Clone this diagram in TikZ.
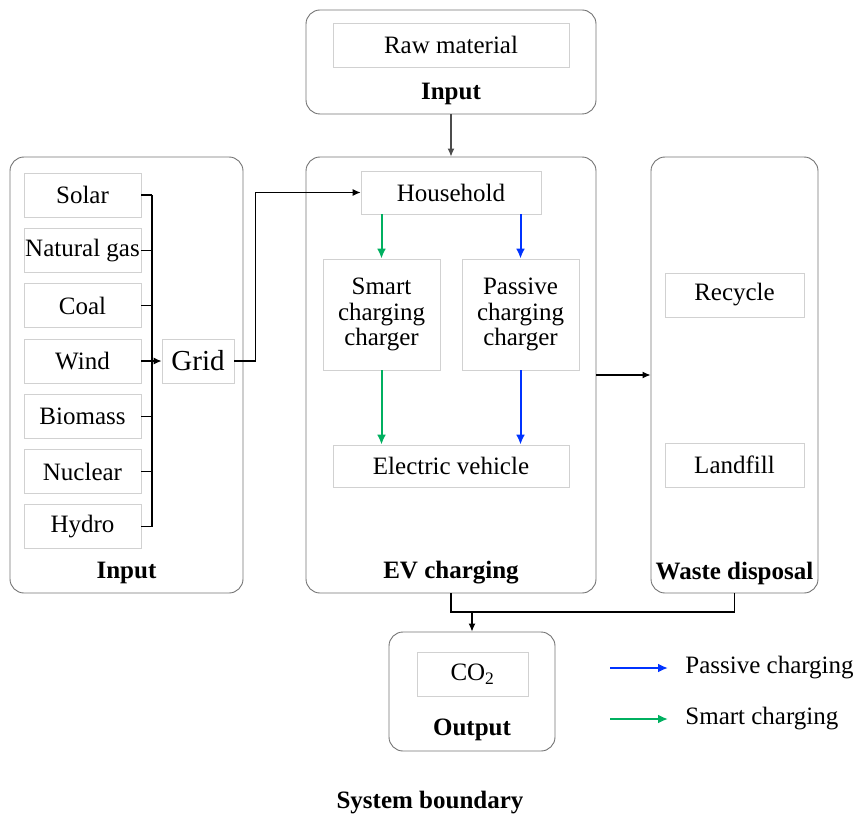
\documentclass[tikz,border=0pt]{standalone}
\usepackage{fontspec}
\setmainfont{Liberation Serif}
\usetikzlibrary{arrows.meta}
\definecolor{smartgreen}{RGB}{0,176,96}
\definecolor{passiveblue}{RGB}{0,51,255}
\begin{document}
\begin{tikzpicture}[x=1pt, y=-1pt, node distance={55.3pt},
	group/.style = {draw=black!55, line width=0.9pt, rounded corners=14pt},
	item/.style = {draw=black!18, line width=0.8pt, inner sep=0.5pt, minimum height=44pt, font=\fontsize{25}{27}\selectfont},
	src/.style = {item, minimum width=117pt},
	title/.style = {font=\fontsize{25}{27}\selectfont\bfseries},
	link/.style = {line width=1.2pt, -{Latex[length=8pt,width=7pt]}},
	smart/.style = {link, draw=smartgreen, line width=2pt, -{Latex[length=10pt,width=9pt]}},
	passive/.style = {link, draw=passiveblue, line width=2pt, -{Latex[length=10pt,width=9pt]}}]
	\useasboundingbox (0,0) rectangle (858,818);
	% top input
	\node[group, minimum width=290pt, minimum height=104pt] (topbox) at (451,62) {};
	\node[item, minimum width=236pt] (raw) at (451,45) {Raw material};
	\node[title] (toplbl) at (451,94) {Input};
	% left input
	\node[group, minimum width=233pt, minimum height=436pt] (inbox) at (126.5,375) {};
	\node[src] (solar) at (82.5,195) {Solar};
	\node[src] (gas) [below of=solar] {Natural gas};
	\node[src] (coal) [below of=gas] {Coal};
	\node[src] (wind) [below of=coal] {Wind};
	\node[src] (biomass) [below of=wind] {Biomass};
	\node[src] (nuclear) [below of=biomass] {Nuclear};
	\node[src] (hydro) [below of=nuclear] {Hydro};
	\node[item, minimum width=72pt, font=\fontsize{29}{31}\selectfont] (grid) at (198,361) {Grid};
	\node[title] (inlbl) at (126.5,573) {Input};
	\coordinate (bus) at (152,361);
	% EV charging
	\node[group, minimum width=290pt, minimum height=436pt] (evbox) at (451,375) {};
	\node[item, minimum width=180pt, minimum height=43pt] (household) at (451,192.5) {Household};
	\node[item, minimum width=117pt, minimum height=111pt, align=center, font=\fontsize{25}{25.5}\selectfont] (smartch) at (381.5,314.5) {Smart\\charging\\charger};
	\node[item, minimum width=117pt, minimum height=111pt, align=center, font=\fontsize{25}{25.5}\selectfont] (passch) at (520.5,314.5) {Passive\\charging\\charger};
	\node[item, minimum width=236pt, minimum height=42pt] (ev) at (451,466) {Electric vehicle};
	\node[title] (evlbl) at (451,573) {EV charging};
	% waste disposal
	\node[group, minimum width=167pt, minimum height=436pt] (wastebox) at (734.5,375) {};
	\node[item, minimum width=139pt] (recycle) at (734.5,295) {Recycle};
	\node[item, minimum width=139pt] (landfill) at (734.5,465) {Landfill};
	\node[title, inner sep=0pt] (wastelbl) at (734.5,573) {Waste disposal};
	% output
	\node[group, minimum width=166pt, minimum height=119pt] (outbox) at (472,691.5) {};
	\node[item, minimum width=111pt] (co2) at (472.5,674) {CO\textsubscript{2}};
	\node[title] (outlbl) at (472,730) {Output};
	\coordinate (join) at (451,612);
	% legend
	\coordinate (pkey) at (610,668);
	\coordinate (skey) at (610,719);
	\node[item, draw=none, anchor=west, inner sep=0pt] (plbl) at (685,668) {Passive charging};
	\node[item, draw=none, anchor=west, inner sep=0pt] (slbl) at (685,719) {Smart charging};
	\node[title] (boundary) at (430,803) {System boundary};
	% connectors
	\foreach \s in {solar,gas,coal,wind,biomass,nuclear,hydro}
		\draw[line width=1.2pt] (\s.east) -- (\s.east -| bus);
	\draw[line width=1.2pt] (solar.east -| bus) -- (hydro.east -| bus);
	\draw[link] (bus) -- (grid);
	\draw[link] (grid.east) -- ++(21,0) |- (household.west);
	\draw[link, draw=black!70] (topbox.south) -- (evbox.north);
	\draw[smart] (smartch.north |- household.south) -- (smartch.north);
	\draw[smart] (smartch.south) -- (smartch.south |- ev.north);
	\draw[passive] (passch.north |- household.south) -- (passch.north);
	\draw[passive] (passch.south) -- (passch.south |- ev.north);
	\draw[link] (evbox.east) -- (wastebox.west);
	\draw[line width=1.2pt] (evbox.south) -- (join) -| (wastebox.south);
	\draw[link] (outbox.north |- join) -- (outbox.north);
	\draw[passive, shorten >=17pt] (pkey) -- (plbl.west);
	\draw[smart, shorten >=17pt] (skey) -- (slbl.west);
\end{tikzpicture}
\end{document}
